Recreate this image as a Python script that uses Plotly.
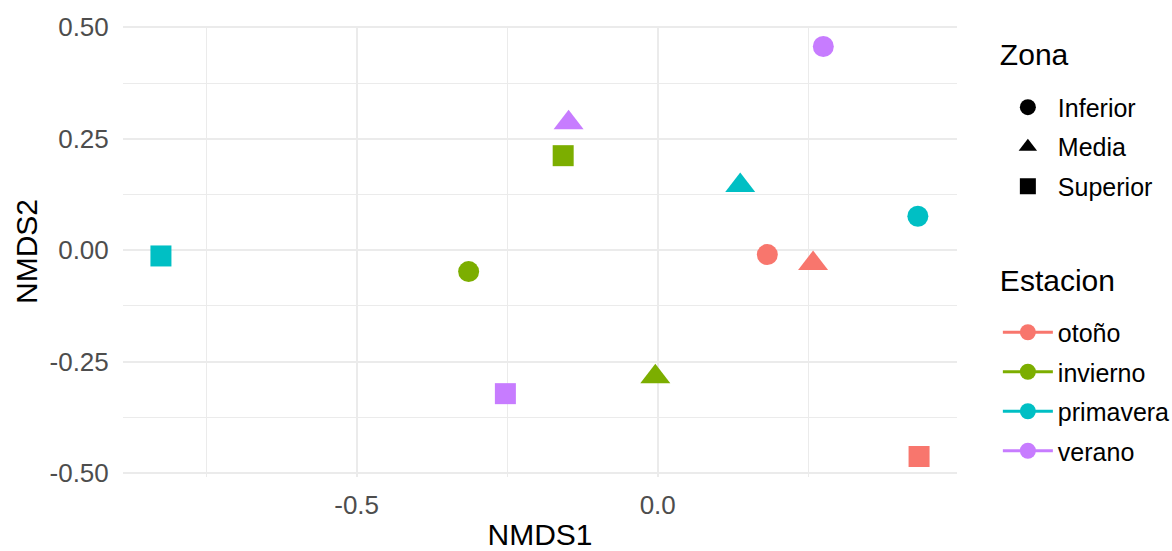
import plotly.graph_objects as go

estacion = ["otoño", "otoño", "otoño",
            "invierno", "invierno", "invierno",
            "primavera", "primavera", "primavera",
            "verano", "verano", "verano"]
zona = ["Inferior", "Media", "Superior"] * 4
nmds1 = [0.182, 0.258, 0.434,
         -0.314, -0.004, -0.157,
         0.432, 0.137, -0.825,
         0.275, -0.148, -0.253]
nmds2 = [-0.010, -0.030, -0.463,
         -0.048, -0.284, 0.212,
         0.076, 0.145, -0.013,
         0.457, 0.286, -0.322]

x_tickvals = [-0.5, 0.0]
x_ticktext = ["-0.5", "0.0"]
y_tickvals = [-0.5, -0.25, 0.0, 0.25, 0.5]
y_ticktext = ["-0.50", "-0.25", "0.00", "0.25", "0.50"]

estaciones = ["otoño", "invierno", "primavera", "verano"]
zonas = ["Inferior", "Media", "Superior"]
colores = {"otoño": "#F8766D", "invierno": "#7CAE00",
           "primavera": "#00BFC4", "verano": "#C77CFF"}
simbolos = {"Inferior": "circle", "Media": "triangle-up", "Superior": "square"}
tamanos = {"Inferior": 21, "Media": 26, "Superior": 21}

fig = go.Figure()

for e in estaciones:
    for z in zonas:
        xs = [x for x, ee, zz in zip(nmds1, estacion, zona) if ee == e and zz == z]
        ys = [y for y, ee, zz in zip(nmds2, estacion, zona) if ee == e and zz == z]
        fig.add_trace(go.Scatter(
            x=xs, y=ys, mode="markers", showlegend=False,
            marker=dict(color=colores[e], symbol=simbolos[z], size=tamanos[z],
                        line=dict(width=0)),
            hoverinfo="x+y"))

spacer = dict(text=" ", font=dict(size=8))

# Legend: Zona
for i, z in enumerate(zonas):
    fig.add_trace(go.Scatter(
        x=[None], y=[None], mode="markers", name=z, legend="legend",
        marker=dict(color="black", symbol=simbolos[z], size=16, line=dict(width=0)),
        legendgroup="zona_" + z,
        legendgrouptitle=spacer if i == 0 else None))

# Legend: Estacion
for i, e in enumerate(estaciones):
    fig.add_trace(go.Scatter(
        x=[None], y=[None], mode="lines+markers", name=e, legend="legend2",
        marker=dict(color=colores[e], symbol="circle", size=16),
        line=dict(color=colores[e], width=3),
        legendgroup="est_" + e,
        legendgrouptitle=spacer if i == 0 else None))

grid = "#EBEBEB"
leg_common = dict(xanchor="left", yanchor="top",
                  font=dict(size=25, color="black"),
                  bgcolor="rgba(0,0,0,0)", borderwidth=0,
                  tracegroupgap=4, traceorder="grouped", itemwidth=50)
fig.update_layout(
    width=1172, height=551,
    margin=dict(l=123, r=215, t=26, b=74, autoexpand=False),
    paper_bgcolor="white", plot_bgcolor="white",
    font=dict(family="Liberation Sans, Arial, sans-serif", color="black"),
    xaxis=dict(range=[-0.888, 0.497], tickvals=x_tickvals, ticktext=x_ticktext,
               showgrid=True, gridcolor=grid, gridwidth=2, zeroline=False,
               showline=False, ticks="outside", ticklen=5, automargin=False,
               tickcolor="rgba(0,0,0,0)",
               tickfont=dict(size=26, color="#4D4D4D"),
               title=dict(text="NMDS1", font=dict(size=30, color="black"), standoff=11),
               minor=dict(dtick=0.25, tick0=0, showgrid=True, gridcolor=grid, gridwidth=1)),
    yaxis=dict(range=[-0.509, 0.503], tickvals=y_tickvals, ticktext=y_ticktext,
               showgrid=True, gridcolor=grid, gridwidth=2, zeroline=False,
               showline=False, ticks="outside", ticklen=8, automargin=False,
               tickcolor="rgba(0,0,0,0)",
               tickfont=dict(size=26, color="#4D4D4D"),
               title=dict(text="NMDS2", font=dict(size=30, color="black"), standoff=3),
               minor=dict(dtick=0.125, tick0=0, showgrid=True, gridcolor=grid, gridwidth=1)),
    legend=dict(x=1.049, y=0.999,
                title=dict(text="Zona", font=dict(size=30, color="black")),
                **leg_common),
    legend2=dict(x=1.049, y=0.5,
                 title=dict(text="Estacion", font=dict(size=30, color="black")),
                 **leg_common),
)

fig.write_html("out.html")
